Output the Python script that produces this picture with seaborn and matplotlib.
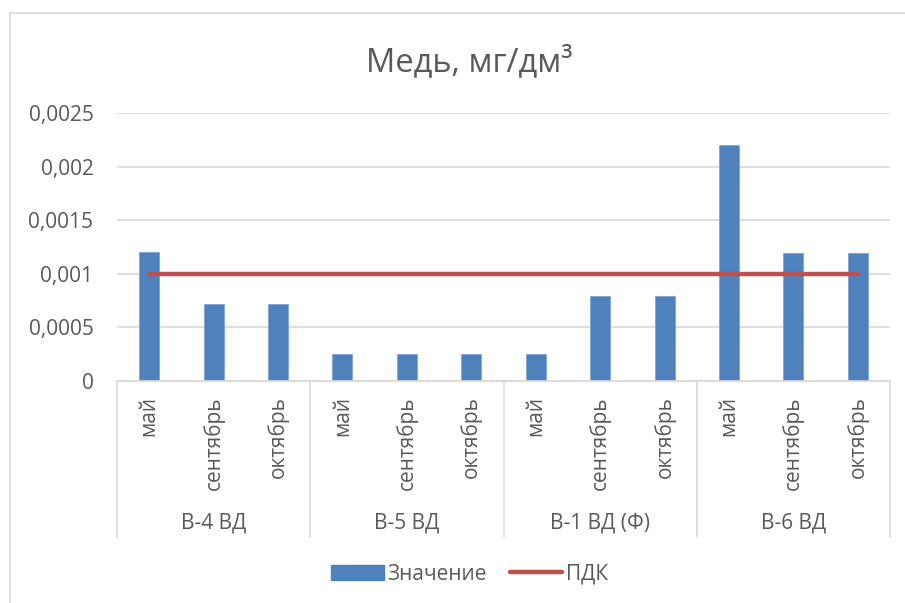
import matplotlib
matplotlib.use('Agg')
import matplotlib.pyplot as plt
import matplotlib.transforms as mtransforms
from matplotlib.lines import Line2D
from matplotlib.patches import Patch
from matplotlib.ticker import FuncFormatter
import pandas as pd
import seaborn as sns

# data
groups = ['В-4 ВД', 'В-5 ВД', 'В-1 ВД (Ф)', 'В-6 ВД']
months = ['май', 'сентябрь', 'октябрь']
values = [0.0012, 0.00072, 0.00072,
          0.00025, 0.00025, 0.00025,
          0.00025, 0.00079, 0.00079,
          0.0022, 0.00119, 0.00119]
pdk = [0.001] * 12
yticks = [0, 0.0005, 0.001, 0.0015, 0.002, 0.0025]

BLUE = '#4F81BD'
RED = '#C0504D'
GRID = '#D9D9D9'
TEXT = '#595959'


def main():
    sns.set_theme(style='white')
    plt.rcParams['font.family'] = ['Open Sans', 'DejaVu Sans']

    df = pd.DataFrame({
        'group': [g for g in groups for _ in months],
        'month': months * len(groups),
        'value': values,
        'pdk': pdk,
    })
    df['key'] = df['group'] + ' ' + df['month']
    df['pos'] = range(len(df))

    fig = plt.figure(figsize=(9.05, 6.03), dpi=100)
    W, H = 905, 603
    ax = fig.add_axes([117 / W, 1 - 381 / H, 773 / W, 268 / H])

    sns.barplot(data=df, x='key', y='value', color=BLUE, saturation=1,
                width=0.31, ax=ax, edgecolor='#7EA3D3', linewidth=0.6)
    sns.lineplot(data=df, x='pos', y='pdk', color=RED, linewidth=3.2,
                 ax=ax, solid_capstyle='round')

    ax.set_xlim(-0.5, len(df) - 0.5)
    ax.set_ylim(0, 0.0025)
    ax.set_yticks(yticks)
    ax.yaxis.set_major_formatter(
        FuncFormatter(lambda v, p: f'{v:g}'.replace('.', ',')))
    ax.set_xticks(df['pos'])
    ax.set_xticklabels(df['month'], rotation=90, va='top')
    ax.set_xlabel('')
    ax.set_ylabel('')
    ax.tick_params(axis='x', length=0, pad=11, labelsize=15, labelcolor=TEXT)
    ax.tick_params(axis='y', length=0, pad=17, labelsize=15, labelcolor=TEXT)
    ax.grid(axis='y', color=GRID, linewidth=1.2)
    ax.set_axisbelow(True)
    for s in ['top', 'left', 'right']:
        ax.spines[s].set_visible(False)
    ax.spines['bottom'].set_color(GRID)
    ax.spines['bottom'].set_linewidth(1.2)

    # group separators and group labels under the month labels
    trans = mtransforms.blended_transform_factory(ax.transData, ax.transAxes)
    bottom = (381 - 537) / 268
    for i in range(len(groups) + 1):
        x = i * len(months) - 0.5
        ax.add_line(Line2D([x, x], [0, bottom], transform=trans,
                           color=GRID, linewidth=1.2, clip_on=False))
    for i, g in enumerate(groups):
        x = i * len(months) + (len(months) - 1) / 2
        ax.text(x, (381 - 523) / 268, g, transform=trans, ha='center',
                va='center', fontsize=15, color=TEXT)

    # chart area border (partly outside the picture)
    fig.add_artist(Line2D([10 / W, 10 / W], [0, 1 - 13 / H], color=GRID,
                          linewidth=1.2))
    fig.add_artist(Line2D([10 / W, 1], [1 - 13 / H, 1 - 13 / H], color=GRID,
                          linewidth=1.2))

    fig.text(469 / W, 1 - 62 / H, 'Медь, мг/дм³', ha='center', va='center',
             fontsize=23.5, color=TEXT)

    handles = [Patch(facecolor=BLUE, edgecolor=BLUE),
               Line2D([0], [0], color=RED, linewidth=3.2,
                      solid_capstyle='round')]
    fig.legend(handles, ['Значение', 'ПДК'], loc='center', ncol=2,
               bbox_to_anchor=(470 / W, 1 - 574 / H), frameon=False,
               fontsize=15, labelcolor=TEXT, handlelength=2.5,
               handletextpad=0.2, columnspacing=1.1)

    fig.savefig('out.png', dpi=100)


if __name__ == '__main__':
    main()
